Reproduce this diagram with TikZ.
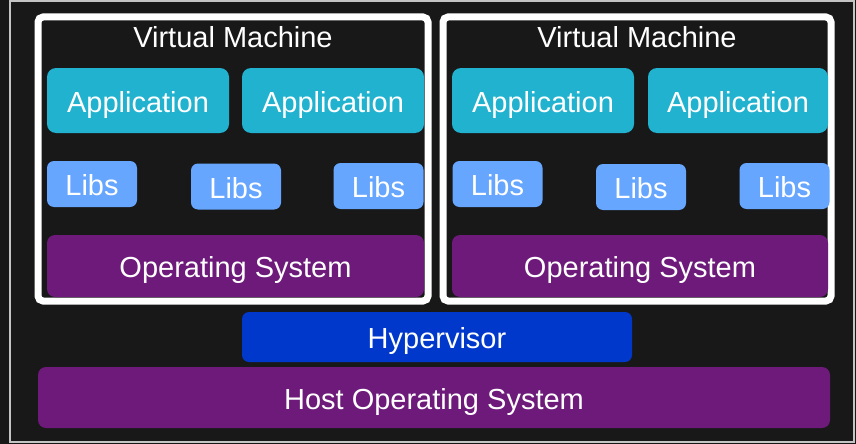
\documentclass[tikz,border=0pt]{standalone}
\usepackage{fontspec}
\setmainfont{Liberation Sans}
\definecolor{bgc}{HTML}{181818}
\definecolor{framec}{HTML}{C4C4C4}
\definecolor{appc}{HTML}{20B2CF}
\definecolor{libc}{HTML}{66A6FF}
\definecolor{osc}{HTML}{6D1A7A}
\definecolor{hypc}{HTML}{0038CC}
\begin{document}
\begin{tikzpicture}[x=1pt,y=-1pt,
  lbl/.style={text=white, font=\fontsize{29}{34}\selectfont,
    text height=23.4pt, text depth=0pt, inner sep=0pt},
  block/.style={lbl, rounded corners=9pt},
  appbox/.style={block, fill=appc, minimum width=182pt, minimum height=65pt},
  libbox/.style={block, fill=libc, rounded corners=7pt, minimum width=90pt, minimum height=46pt},
  osbox/.style={block, fill=osc, rounded corners=8pt, minimum height=62pt},
  vmframe/.style={draw=white, line width=7pt, rounded corners=5pt, inner sep=0pt}]
\useasboundingbox (0,0) rectangle (856,444);
\fill[bgc] (0,0) rectangle (856,444);
\draw[framec, line width=2pt] (10,1) rectangle (854,442);

% virtual machine frames
\node[vmframe, minimum width=390pt, minimum height=284pt] (vm1) at (233,159) {};
\node[vmframe, minimum width=388pt, minimum height=284pt] (vm2) at (637,159) {};
\node[lbl] (t1) at (233,36) {Virtual Machine};
\node[lbl] (t2) at (637,36) {Virtual Machine};

% applications
\node[appbox] (a1) at (138,100.5) {Application};
\node[appbox] (a2) at (333,100.5) {Application};
\node[appbox] (a3) at (543,100.5) {Application};
\node[appbox, minimum width=180pt] (a4) at (738,100.5) {Application};

% libraries
\node[libbox] (l1) at (92,184) {Libs};
\node[libbox] (l2) at (236,186.5) {Libs};
\node[libbox] (l3) at (378.5,186) {Libs};
\node[libbox] (l4) at (497.5,184) {Libs};
\node[libbox] (l5) at (641,187) {Libs};
\node[libbox] (l6) at (784.5,186) {Libs};

% guest operating systems
\node[osbox, minimum width=377pt] (os1) at (235.5,266) {Operating System};
\node[osbox, minimum width=376pt] (os2) at (640,266) {Operating System};

% hypervisor and host
\node[block, fill=hypc, rounded corners=7pt, minimum width=390pt, minimum height=50pt] (hyp) at (437,337) {Hypervisor};
\node[osbox, minimum width=792pt, minimum height=61pt] (host) at (434,397.5) {Host Operating System};
\end{tikzpicture}
\end{document}
